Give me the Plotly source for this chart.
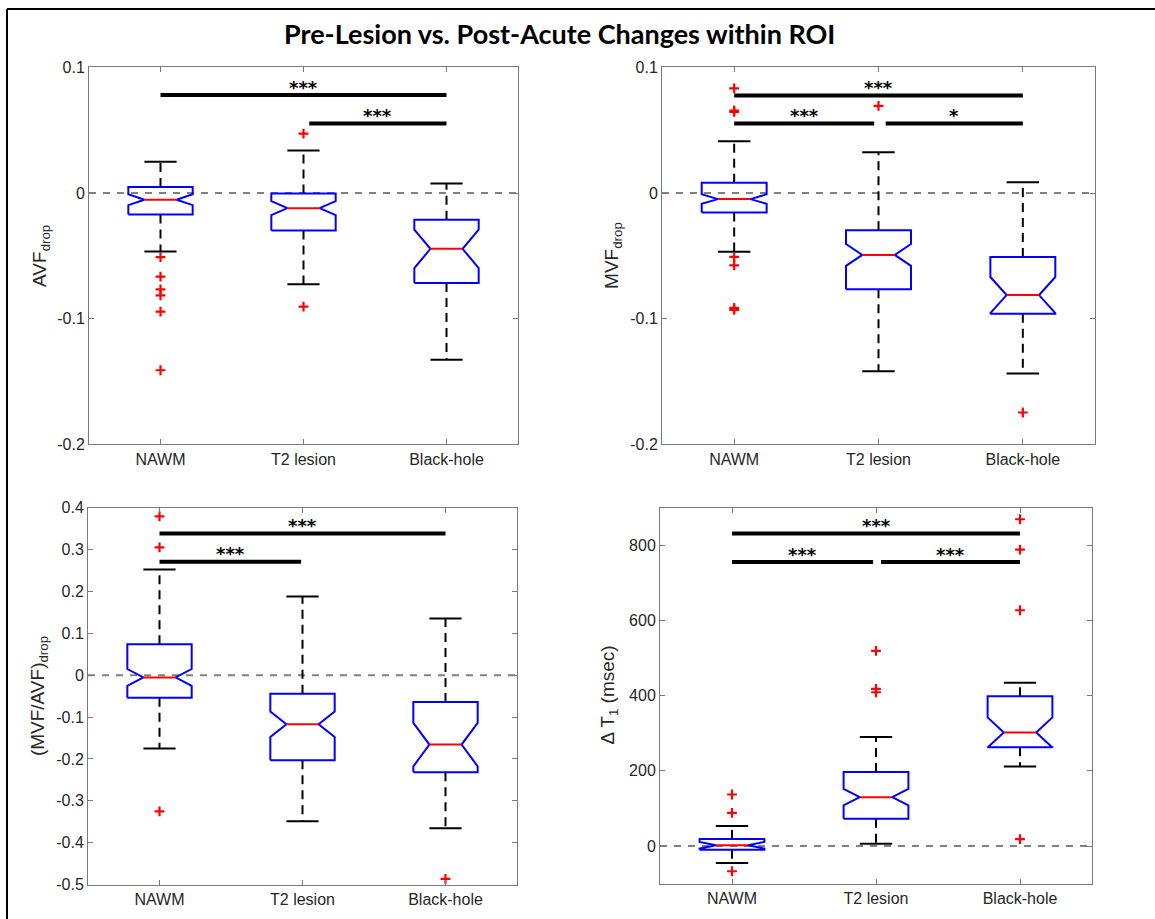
import plotly.graph_objects as go

CATEGORIES = ["NAWM", "T2 lesion", "Black-hole"]
POSITIONS = [1, 2, 3]

# ---- Panel 1: AVF_drop ----
AVF_Q1 = [-0.0170, -0.0298, -0.0716]
AVF_MEDIAN = [-0.0053, -0.0120, -0.0444]
AVF_Q3 = [0.0048, -0.0003, -0.0213]
AVF_NOTCH = [0.0043, 0.0056, 0.0153]
AVF_LOWER = [-0.0465, -0.0726, -0.1327]
AVF_UPPER = [0.0250, 0.0338, 0.0077]
AVF_OUTLIERS = [[-0.0510, -0.0665, -0.0766, -0.0814, -0.0944, -0.1410],
                [0.0473, -0.0904],
                []]
AVF_SIG_FROM = [1, 2.04]
AVF_SIG_TO = [3, 3]
AVF_SIG_Y = [0.0780, 0.0553]
AVF_SIG_TEXT = ["***", "***"]

# ---- Panel 2: MVF_drop ----
MVF_Q1 = [-0.0155, -0.0766, -0.0961]
MVF_MEDIAN = [-0.0048, -0.0492, -0.0812]
MVF_Q3 = [0.0082, -0.0295, -0.0508]
MVF_NOTCH = [0.0038, 0.0087, 0.0144]
MVF_LOWER = [-0.0468, -0.1418, -0.1436]
MVF_UPPER = [0.0412, 0.0324, 0.0085]
MVF_OUTLIERS = [[0.0833, 0.0657, 0.0646, -0.0508, -0.0575, -0.0913, -0.0930],
                [0.0694],
                [-0.1746]]
MVF_SIG_FROM = [1, 1, 2.05]
MVF_SIG_TO = [3, 1.97, 3]
MVF_SIG_Y = [0.0777, 0.0553, 0.0553]
MVF_SIG_TEXT = ["***", "***", "*"]

# ---- Panel 3: (MVF/AVF)_drop ----
RATIO_Q1 = [-0.0540, -0.2032, -0.2319]
RATIO_MEDIAN = [-0.0053, -0.1170, -0.1657]
RATIO_Q3 = [0.0737, -0.0444, -0.0643]
RATIO_NOTCH = [0.0200, 0.0303, 0.0520]
RATIO_LOWER = [-0.1752, -0.3484, -0.3651]
RATIO_UPPER = [0.2524, 0.1878, 0.1351]
RATIO_OUTLIERS = [[0.379, 0.305, -0.325],
                  [],
                  [-0.4864]]
RATIO_SIG_FROM = [1, 1]
RATIO_SIG_TO = [3, 1.99]
RATIO_SIG_Y = [0.338, 0.271]
RATIO_SIG_TEXT = ["***", "***"]

# ---- Panel 4: Delta T1 (msec) ----
T1_Q1 = [-10, 72.6, 263]
T1_MEDIAN = [2, 130, 302]
T1_Q3 = [19, 197, 398]
T1_NOTCH = [9, 22, 40]
T1_LOWER = [-45, 6, 211.5]
T1_UPPER = [53, 290, 434]
T1_OUTLIERS = [[137, 88, -67],
               [519, 418, 409],
               [869, 788, 627, 18.6]]
T1_SIG_FROM = [1, 1, 2.035]
T1_SIG_TO = [3, 1.98, 3]
T1_SIG_Y = [831, 755, 755]
T1_SIG_TEXT = ["***", "***", "***"]

# Axis ticks
RATIO_TICKS = [-0.5, -0.4, -0.3, -0.2, -0.1, 0, 0.1, 0.2, 0.3, 0.4]
FRAC_TICKS = [-0.2, -0.1, 0, 0.1]
T1_TICKS = [0, 200, 400, 600, 800]
ZERO = 0

# ---------------- styling / layout ----------------
W, H = 1155, 931
OFF_Y = 7.8      # vertical offset observed in the rendered page
SCALE_Y = 0.979  # vertical scale observed in the rendered page
BOX_HALF = 0.225
NOTCH_HALF = 0.1125
TICK_FONT = dict(family="Liberation Sans, Arial, sans-serif", size=16, color="#262626")
AX_COLOR = "#7a7a7a"


def fmt(v):
    return "%g" % v


def py(v):
    """target pixel row -> paper fraction"""
    return 1 - ((v - OFF_Y) / SCALE_Y) / H


panels = [
    dict(ax="", q1=AVF_Q1, med=AVF_MEDIAN, q3=AVF_Q3, notch=AVF_NOTCH, lo=AVF_LOWER, hi=AVF_UPPER,
         out=AVF_OUTLIERS, sf=AVF_SIG_FROM, st=AVF_SIG_TO, sy=AVF_SIG_Y, stext=AVF_SIG_TEXT,
         yr=[-0.2, 0.1], ticks=FRAC_TICKS, px=(89, 518, 67, 443),
         title="AVF<sub>drop</sub>", tx=41),
    dict(ax="2", q1=MVF_Q1, med=MVF_MEDIAN, q3=MVF_Q3, notch=MVF_NOTCH, lo=MVF_LOWER, hi=MVF_UPPER,
         out=MVF_OUTLIERS, sf=MVF_SIG_FROM, st=MVF_SIG_TO, sy=MVF_SIG_Y, stext=MVF_SIG_TEXT,
         yr=[-0.2, 0.1], ticks=FRAC_TICKS, px=(662, 1095, 67, 443),
         title="MVF<sub>drop</sub>", tx=613),
    dict(ax="3", q1=RATIO_Q1, med=RATIO_MEDIAN, q3=RATIO_Q3, notch=RATIO_NOTCH, lo=RATIO_LOWER,
         hi=RATIO_UPPER, out=RATIO_OUTLIERS, sf=RATIO_SIG_FROM, st=RATIO_SIG_TO, sy=RATIO_SIG_Y,
         stext=RATIO_SIG_TEXT, yr=[-0.5, 0.4], ticks=RATIO_TICKS, px=(88, 517, 506, 882),
         title="(MVF/AVF)<sub>drop</sub>", tx=39),
    dict(ax="4", q1=T1_Q1, med=T1_MEDIAN, q3=T1_Q3, notch=T1_NOTCH, lo=T1_LOWER, hi=T1_UPPER,
         out=T1_OUTLIERS, sf=T1_SIG_FROM, st=T1_SIG_TO, sy=T1_SIG_Y, stext=T1_SIG_TEXT,
         yr=[-100, 900], ticks=T1_TICKS, px=(660, 1092, 506, 881),
         title="Δ T<sub>1</sub> (msec)", tx=609),
]

fig = go.Figure()
layout = dict(width=W, height=H, autosize=False, margin=dict(l=0, r=0, t=0, b=0, pad=0),
              paper_bgcolor="white", plot_bgcolor="white", showlegend=False)
annotations = []
shapes = []

for p in panels:
    xa, ya = "x" + p["ax"], "y" + p["ax"]
    # zero reference line
    shapes.append(dict(type="line", xref=xa + " domain", yref=ya, x0=0, x1=1, y0=ZERO, y1=ZERO,
                       line=dict(color="#808080", width=2, dash="7px,7px"), layer="below"))
    # whiskers (dashed), caps
    wx, wy, cx, cy = [], [], [], []
    for pos, q1, q3, lo, hi in zip(POSITIONS, p["q1"], p["q3"], p["lo"], p["hi"]):
        wx += [pos, pos, None, pos, pos, None]
        wy += [q3, hi, None, q1, lo, None]
        cx += [pos - NOTCH_HALF, pos + NOTCH_HALF, None, pos - NOTCH_HALF, pos + NOTCH_HALF, None]
        cy += [hi, hi, None, lo, lo, None]
    fig.add_trace(go.Scatter(x=wx, y=wy, mode="lines", xaxis=xa, yaxis=ya, hoverinfo="skip",
                             line=dict(color="black", width=2, dash="9px,6px")))
    fig.add_trace(go.Scatter(x=cx, y=cy, mode="lines", xaxis=xa, yaxis=ya, hoverinfo="skip",
                             line=dict(color="black", width=2)))
    # notched boxes (outline built from quartiles, median and notch half-span)
    bx, by, mx, my = [], [], [], []
    for pos, q1, med, q3, n in zip(POSITIONS, p["q1"], p["med"], p["q3"], p["notch"]):
        l, r = pos - BOX_HALF, pos + BOX_HALF
        nl, nr = pos - NOTCH_HALF, pos + NOTCH_HALF
        bx += [l, l, nl, l, l, r, r, nr, r, r, l, None]
        by += [q1, med - n, med, med + n, q3, q3, med + n, med, med - n, q1, q1, None]
        mx += [nl, nr, None]
        my += [med, med, None]
    fig.add_trace(go.Scatter(x=bx, y=by, mode="lines", xaxis=xa, yaxis=ya, hoverinfo="skip",
                             line=dict(color="#0000ff", width=2)))
    fig.add_trace(go.Scatter(x=mx, y=my, mode="lines", xaxis=xa, yaxis=ya, hoverinfo="skip",
                             line=dict(color="#ff0000", width=2)))
    # outliers
    ox, oy = [], []
    for pos, vals in zip(POSITIONS, p["out"]):
        ox += [pos] * len(vals)
        oy += vals
    fig.add_trace(go.Scatter(x=ox, y=oy, mode="markers", xaxis=xa, yaxis=ya, hoverinfo="skip",
                             marker=dict(symbol="cross-thin", size=7, color="#ff0000",
                                         line=dict(color="#ff0000", width=2.2))))
    # significance bars
    sx, sy = [], []
    for f, t, y, txt in zip(p["sf"], p["st"], p["sy"], p["stext"]):
        sx += [f, t, None]
        sy += [y, y, None]
        annotations.append(dict(x=(f + t) / 2, y=y, xref=xa, yref=ya, text=txt, showarrow=False,
                                yanchor="middle", yshift=8,
                                font=dict(family="DejaVu Sans, sans-serif", size=18, color="black",
                                          weight="bold")))
    fig.add_trace(go.Scatter(x=sx, y=sy, mode="lines", xaxis=xa, yaxis=ya, hoverinfo="skip",
                             line=dict(color="black", width=4)))

    l, r, t, b = p["px"]
    layout["xaxis" + p["ax"]] = dict(
        domain=[l / W, r / W], range=[0.5, 3.5], anchor=ya,
        tickmode="array", tickvals=POSITIONS, ticktext=CATEGORIES,
        ticks="inside", ticklen=5, tickcolor=AX_COLOR, showline=True,
        linecolor=AX_COLOR, linewidth=1, mirror="ticks", showgrid=False,
        zeroline=False, tickfont=TICK_FONT, fixedrange=True)
    layout["yaxis" + p["ax"]] = dict(
        domain=[py(b), py(t)], range=p["yr"], anchor=xa,
        tickmode="array", tickvals=p["ticks"], ticktext=[fmt(v) for v in p["ticks"]],
        ticks="inside", ticklen=5, tickcolor=AX_COLOR, showline=True,
        linecolor=AX_COLOR, linewidth=1, mirror="ticks", showgrid=False,
        zeroline=False, tickfont=TICK_FONT, fixedrange=True)
    annotations.append(dict(x=p["tx"] / W, y=py((t + b) / 2), xref="paper", yref="paper",
                            text=p["title"], textangle=-90, showarrow=False,
                            xanchor="center", yanchor="middle",
                            font=dict(family="Liberation Sans, Arial, sans-serif", size=19,
                                      color="#262626")))

# figure title
annotations.append(dict(x=559 / W, y=py(33), xref="paper", yref="paper",
                        text="Pre-Lesion vs. Post-Acute Changes within ROI", showarrow=False,
                        xanchor="center", yanchor="middle",
                        font=dict(family="Lato, sans-serif", size=27, color="black", weight="bold")))
# figure frame (only top and left edges are visible in the crop)
FRAME_X = 7 / W
FRAME_Y = 1 - 1.0 / H
shapes.append(dict(type="line", xref="paper", yref="paper", x0=FRAME_X, x1=1,
                   y0=FRAME_Y, y1=FRAME_Y, line=dict(color="black", width=2), layer="above"))
shapes.append(dict(type="line", xref="paper", yref="paper", x0=FRAME_X, x1=FRAME_X,
                   y0=0, y1=FRAME_Y, line=dict(color="black", width=2), layer="above"))

layout["annotations"] = annotations
layout["shapes"] = shapes
fig.update_layout(**layout)
fig.write_html("out.html", config={"displayModeBar": False, "responsive": False},
               post_script="document.body.style.margin='0';document.body.style.overflow='hidden';")
